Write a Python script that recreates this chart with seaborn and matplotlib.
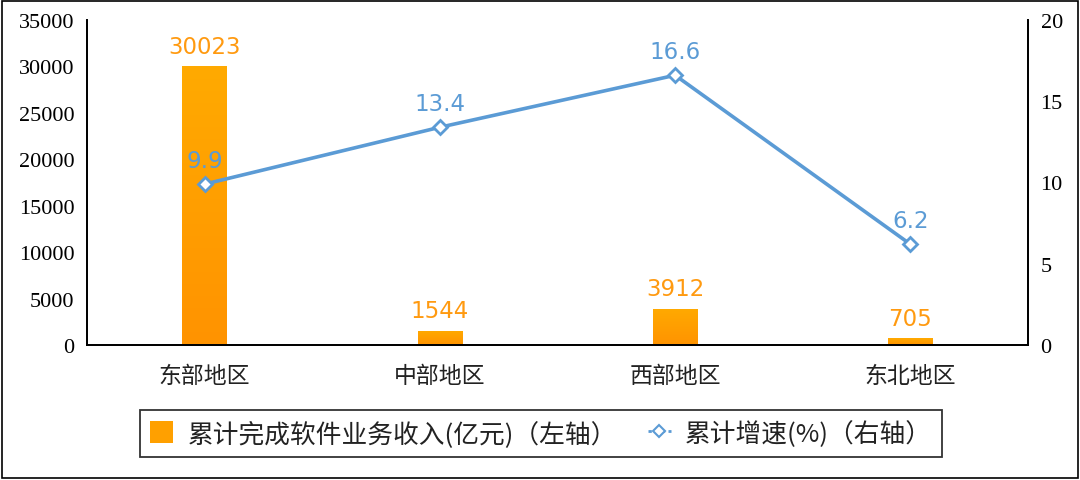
import numpy as np
import pandas as pd
import matplotlib
matplotlib.use("Agg")
import matplotlib.pyplot as plt
import seaborn as sns
from matplotlib.patches import Rectangle, Patch
from matplotlib.lines import Line2D
from matplotlib.colors import LinearSegmentedColormap

categories = ["东部地区", "中部地区", "西部地区", "东北地区"]
revenue = [30023, 1544, 3912, 705]
growth = [9.9, 13.4, 16.6, 6.2]
left_ticks = [0, 5000, 10000, 15000, 20000, 25000, 30000, 35000]
right_ticks = [0, 5, 10, 15, 20]
legend_labels = ["累计完成软件业务收入(亿元)（左轴）", "累计增速(%)（右轴）"]

sns.set_theme(style="white")
plt.rcParams['font.family'] = ['Noto Sans CJK SC', 'DejaVu Sans']

BAR_C = "#FFA000"
LINE_C = "#5B9BD5"
LABEL_O = "#FF9A10"

fig = plt.figure(figsize=(10.8, 4.81), dpi=100)
ax = fig.add_axes([87/1080, 1-346/481, (1028-87)/1080, (346-21)/481])

df = pd.DataFrame({"cat": categories, "rev": revenue})
sns.barplot(data=df, x="cat", y="rev", color=BAR_C, width=0.19, ax=ax,
            saturation=1, linewidth=0)

# gradient fill on bars
cmap = LinearSegmentedColormap.from_list("og", ["#FF9300", "#FFAA00"])
grad = np.linspace(0, 1, 256).reshape(-1, 1)
for p in ax.patches:
    x0, y0 = p.get_x(), p.get_y()
    w, h = p.get_width(), p.get_height()
    im = ax.imshow(grad, extent=[x0, x0 + w, y0, y0 + h], origin="lower",
                   cmap=cmap, aspect="auto", zorder=p.get_zorder() + 0.1)
    im.set_clip_path(p)

ax.set_xlim(-0.5, 3.5)
ax.set_ylim(0, 35000)
ax.set_yticks(left_ticks)
ax.set_yticklabels([str(v) for v in left_ticks], family="Liberation Serif", fontsize=16)
ax.set_xlabel("")
ax.set_ylabel("")
ax.tick_params(axis="y", length=0, pad=9, colors="black")
ax.tick_params(axis="x", which="major", length=0, pad=14, labelsize=16.5, colors="#222222")
ax.set_xticks(np.arange(-0.5, 4, 1), minor=True)
ax.tick_params(axis="x", which="minor", length=7, width=1, color="black", direction="out")
for s in ["top"]:
    ax.spines[s].set_visible(False)
for s in ["left", "right", "bottom"]:
    ax.spines[s].set_color("black")
    ax.spines[s].set_linewidth(1.3)

for i, v in enumerate(revenue):
    ax.annotate(str(v), (i, v), xytext=(0, 6), textcoords="offset points",
                ha="center", va="bottom", fontsize=16.5, color=LABEL_O,
                family="DejaVu Sans")

ax2 = ax.twinx()
sns.lineplot(x=np.arange(len(growth)), y=growth, ax=ax2, color=LINE_C, linewidth=2.6,
             marker="D", markersize=7, markerfacecolor="white",
             markeredgecolor=LINE_C, markeredgewidth=2)
ax2.set_ylim(0, 20)
ax2.set_yticks(right_ticks)
ax2.set_yticklabels([str(v) for v in right_ticks], family="Liberation Serif", fontsize=16)
ax2.tick_params(axis="y", length=0, pad=9, colors="black")
ax2.set_ylabel("")
ax2.spines["top"].set_visible(False)
for s in ["left", "right", "bottom"]:
    ax2.spines[s].set_color("black")
    ax2.spines[s].set_linewidth(1.3)
ax2.grid(False)
ax.grid(False)

for i, v in enumerate(growth):
    ax2.annotate(f"{v}", (i, v), xytext=(0, 9), textcoords="offset points",
                 ha="center", va="bottom", fontsize=16.5, color=LINE_C,
                 family="DejaVu Sans")

handles = [Patch(facecolor=BAR_C, edgecolor="none"),
           Line2D([0], [0], color=LINE_C, linestyle=(0, (1.2, 1.2)), linewidth=2,
                  marker="D", markersize=6, markerfacecolor="white",
                  markeredgecolor=LINE_C, markeredgewidth=1.5)]
leg = fig.legend(handles, legend_labels, loc="center",
                 bbox_to_anchor=(541/1080, 1-434.5/481), ncol=2, frameon=True,
                 fancybox=False, edgecolor="black", fontsize=18.5,
                 handlelength=0.9, handleheight=0.9, columnspacing=1.2,
                 borderpad=0.4, handletextpad=0.55, borderaxespad=0)
leg.get_frame().set_linewidth(1.3)
for t in leg.get_texts():
    t.set_color("#222222")

fig.patches.append(Rectangle((2/1080, 2/481), 1-4/1080, 1-4/481, transform=fig.transFigure,
                             fill=False, edgecolor="black", linewidth=1.2))

fig.savefig("out.png", dpi=100)
